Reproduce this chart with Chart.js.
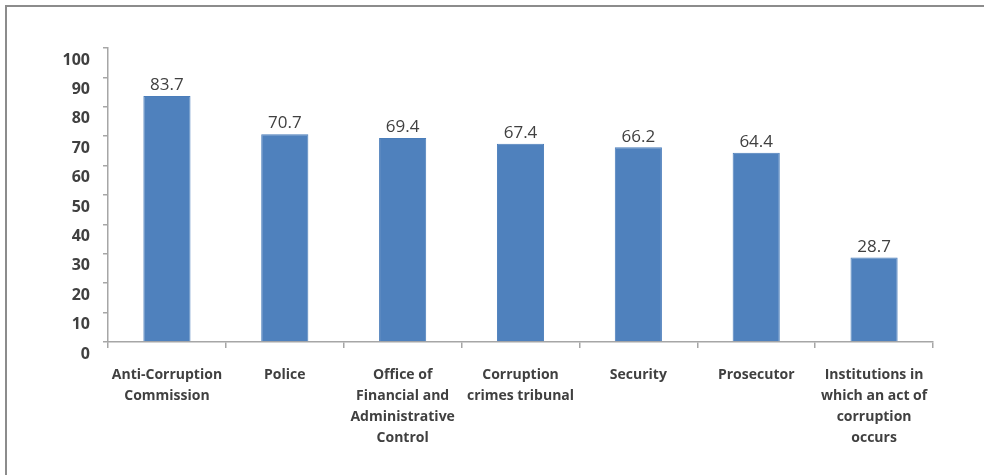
<!DOCTYPE html>
<html>
<head>
<meta charset="utf-8">
<script src="https://cdn.jsdelivr.net/npm/chart.js@4.4.1/dist/chart.umd.min.js"></script>
<style>
  html, body { margin: 0; padding: 0; background: #ffffff; }
  #wrap { position: relative; width: 984px; height: 475px; }
  canvas { display: block; }
</style>
</head>
<body>
<div id="wrap"><canvas id="chart" width="984" height="475"></canvas></div>
<script>
// Institutions, wrapped onto lines as printed under the axis
const categories = [
  ["Anti-Corruption", "Commission"],
  ["Police"],
  ["Office of", "Financial and", "Administrative", "Control"],
  ["Corruption", "crimes tribunal"],
  ["Security"],
  ["Prosecutor"],
  ["Institutions in", "which an act of", "corruption", "occurs"]
];
const values = [83.7, 70.7, 69.4, 67.4, 66.2, 64.4, 28.7];
const yTicks = [0, 10, 20, 30, 40, 50, 60, 70, 80, 90, 100];

const axisGray = '#a6a6a6';
const textGray = '#404040';

// Outer frame: top and left edges of the surrounding box
const framePlugin = {
  id: 'frame',
  beforeDraw(chart) {
    const ctx = chart.ctx;
    ctx.save();
    ctx.strokeStyle = '#8c8c8c';
    ctx.lineWidth = 2;
    ctx.beginPath();
    ctx.moveTo(6, chart.height);
    ctx.lineTo(6, 6);
    ctx.lineTo(chart.width, 6);
    ctx.stroke();
    ctx.restore();
  }
};

// Value printed above each bar
const valueLabels = {
  id: 'valueLabels',
  afterDatasetsDraw(chart) {
    const ctx = chart.ctx;
    const meta = chart.getDatasetMeta(0);
    ctx.save();
    ctx.fillStyle = textGray;
    ctx.font = '17px "Open Sans", sans-serif';
    ctx.textAlign = 'center';
    ctx.textBaseline = 'bottom';
    meta.data.forEach((bar, i) => {
      ctx.fillText(values[i].toFixed(1), bar.x, bar.y - 2);
    });
    ctx.restore();
  }
};

new Chart(document.getElementById('chart'), {
  type: 'bar',
  data: {
    labels: categories,
    datasets: [{
      data: values,
      backgroundColor: '#4f81bd',
      borderColor: '#4a7dba',
      borderWidth: 1,
      categoryPercentage: 1.0,
      barPercentage: 0.4
    }]
  },
  options: {
    responsive: false,
    animation: false,
    layout: { padding: { top: 48, right: 51, left: 0, bottom: 0 } },
    plugins: {
      legend: { display: false },
      tooltip: { enabled: false }
    },
    scales: {
      x: {
        grid: {
          offset: true,
          drawOnChartArea: false,
          color: axisGray,
          lineWidth: 1.5,
          tickLength: 6
        },
        border: { color: axisGray, width: 1.5 },
        ticks: {
          color: textGray,
          font: { family: '"Open Sans", sans-serif', size: 14, weight: 'bold', lineHeight: '21px' },
          padding: 17,
          maxRotation: 0,
          autoSkip: false
        },
        afterFit(scale) { scale.height = 133; }
      },
      y: {
        min: 0,
        max: 100,
        afterBuildTicks(scale) { scale.ticks = yTicks.map(v => ({ value: v })); },
        grid: {
          drawOnChartArea: false,
          color: axisGray,
          lineWidth: 1.5,
          tickLength: 5
        },
        border: { color: axisGray, width: 1.5 },
        ticks: {
          color: textGray,
          font: { family: '"Open Sans", sans-serif', size: 16, weight: 'bold' },
          padding: 13,
          labelOffset: 12
        },
        afterFit(scale) { scale.width = 108; }
      }
    }
  },
  plugins: [framePlugin, valueLabels]
});
</script>
</body>
</html>
